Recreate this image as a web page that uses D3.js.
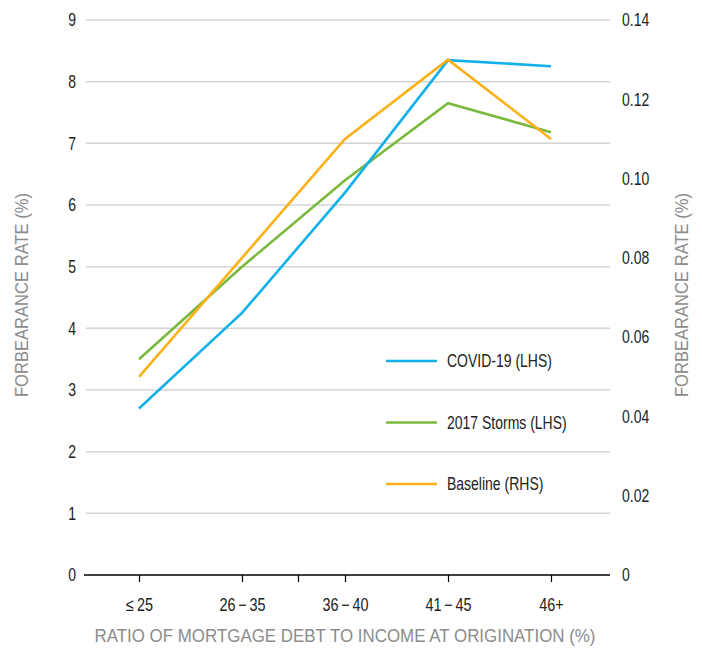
<!DOCTYPE html>
<html><head><meta charset="utf-8">
<script src="https://cdn.jsdelivr.net/npm/d3@7"></script>
<style>
body{margin:0;background:#fff;}
text{font-family:"Liberation Sans",Arial,sans-serif;}
</style></head>
<body><svg id="c" width="702" height="648"></svg>
<script>
const categories = ["\u2264\u200925","26\u2009\u2212\u200935","36\u2009\u2212\u200940","41\u2009\u2212\u200945","46+"];
const covid = [2.7, 4.25, 6.2, 8.35, 8.25];
const storms = [3.5, 5.0, 6.4, 7.65, 7.18];
const baseline = [0.050, 0.080, 0.110, 0.130, 0.110];
const leftTicks = [0,1,2,3,4,5,6,7,8,9];
const rightTicks = [0,0.02,0.04,0.06,0.08,0.10,0.12,0.14];
const rightTickLabels = ["0","0.02","0.04","0.06","0.08","0.10","0.12","0.14"];
const seriesNames = ["COVID-19 (LHS)","2017 Storms (LHS)","Baseline (RHS)"];
const colors = ["#12b0ea","#7ab93c","#fbb117"];

const SX = 0.8; // horizontal condensing of the font
const svg = d3.select("#c");
const L = 86, R = 610, T = 20, B = 575;
const x = d3.scalePoint().domain(categories).range([87.5, 602.5]).padding(0.5);
const yL = d3.scaleLinear().domain([0,9]).range([B,T]);
const yR = d3.scaleLinear().domain([0,0.14]).range([B,T]);

// gridlines
svg.append("g").selectAll("line").data(leftTicks.filter(d=>d>0)).join("line")
  .attr("x1",L).attr("x2",R).attr("y1",d=>yL(d)).attr("y2",d=>yL(d))
  .attr("stroke","#d4d4d4").attr("stroke-width",1.5);

// left axis labels
svg.append("g").selectAll("text").data(leftTicks).join("text")
  .attr("transform",d=>`translate(76,${yL(d)}) scale(${SX},1)`)
  .attr("dy","0.36em").attr("text-anchor","end")
  .attr("font-size",17.5).attr("fill","#222").text(d=>d);

// right axis labels
svg.append("g").selectAll("text").data(rightTicks).join("text")
  .attr("transform",d=>`translate(622,${yR(d)}) scale(${SX},1)`)
  .attr("dy","0.36em").attr("text-anchor","start")
  .attr("font-size",17.5).attr("fill","#222").text((d,i)=>rightTickLabels[i]);

// x axis
const xAxis = d3.axisBottom(x).tickSize(7).tickPadding(0);
const gx = svg.append("g").attr("transform",`translate(0,${B})`).call(xAxis);
gx.select(".domain").attr("d",`M${L-2},0H${R}`).attr("stroke","#000").attr("stroke-width",1.5);
gx.selectAll(".tick line").attr("stroke","#000").attr("stroke-width",1.2);
gx.selectAll(".tick text").attr("y",0).attr("dy",0)
  .attr("transform",`translate(0,36) scale(${SX},1)`)
  .attr("font-size",18).attr("fill","#222")
  .style("font-family",'"Liberation Sans",Arial,sans-serif');
// extra minor tick seen in the reference between 2nd and 3rd category
const mx = (x(categories[1])+x(categories[2]))/2+5;
gx.append("line").attr("x1",mx).attr("x2",mx)
  .attr("y1",0).attr("y2",7).attr("stroke","#000").attr("stroke-width",1.2);

// axis titles
svg.append("text").attr("x",345).attr("y",642).attr("text-anchor","middle")
  .attr("font-size",19).attr("fill","#8c8c8c")
  .attr("textLength",501).attr("lengthAdjust","spacingAndGlyphs")
  .text("RATIO OF MORTGAGE DEBT TO INCOME AT ORIGINATION (%)");
svg.append("text").attr("transform","translate(28,295) rotate(-90)").attr("text-anchor","middle")
  .attr("font-size",19).attr("fill","#8c8c8c")
  .attr("textLength",204).attr("lengthAdjust","spacingAndGlyphs")
  .text("FORBEARANCE RATE (%)");
svg.append("text").attr("transform","translate(688,295) rotate(-90)").attr("text-anchor","middle")
  .attr("font-size",19).attr("fill","#8c8c8c")
  .attr("textLength",204).attr("lengthAdjust","spacingAndGlyphs")
  .text("FORBEARANCE RATE (%)");

// lines
const lineL = d3.line().x((d,i)=>x(categories[i])).y(d=>yL(d));
const lineR = d3.line().x((d,i)=>x(categories[i])).y(d=>yR(d));
svg.append("path").datum(storms).attr("d",lineL).attr("fill","none").attr("stroke",colors[1]).attr("stroke-width",2.6);
svg.append("path").datum(covid).attr("d",lineL).attr("fill","none").attr("stroke",colors[0]).attr("stroke-width",2.6);
svg.append("path").datum(baseline).attr("d",lineR).attr("fill","none").attr("stroke",colors[2]).attr("stroke-width",2.6);

// legend
const lg = svg.append("g").selectAll("g").data(seriesNames).join("g")
  .attr("transform",(d,i)=>`translate(386,${361+i*61.5})`);
lg.append("line").attr("x1",0).attr("x2",51).attr("y1",0).attr("y2",0)
  .attr("stroke",(d,i)=>colors[i]).attr("stroke-width",2.6);
lg.append("text").attr("transform",`translate(61,0) scale(${SX},1)`)
  .attr("dy","0.36em").attr("font-size",17.5).attr("fill","#222").text(d=>d);
</script></body></html>
